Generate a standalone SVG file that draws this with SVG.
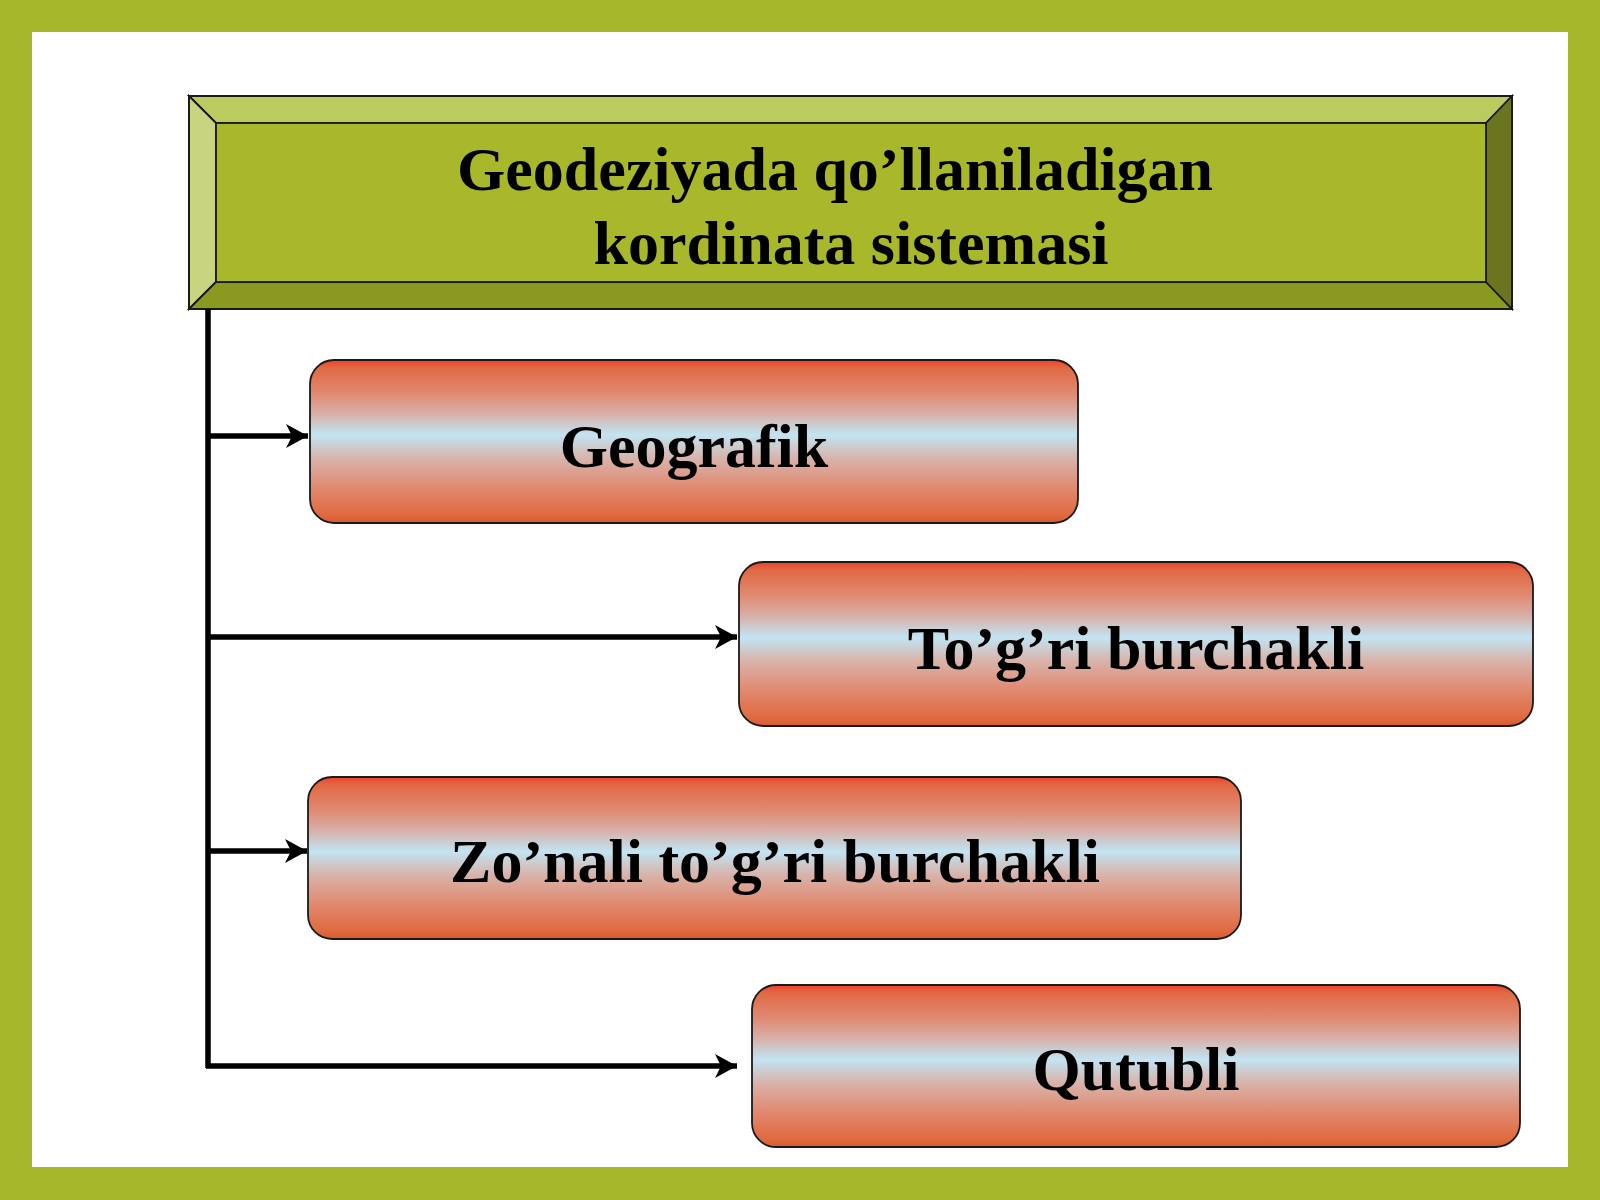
<svg xmlns="http://www.w3.org/2000/svg" width="1600" height="1200" viewBox="0 0 1600 1200">
<defs>
<style>
.t{font-family:"Liberation Serif","Times New Roman",serif;font-weight:bold;font-size:62px;fill:#000;text-anchor:middle}
.box{fill:url(#g);stroke:#1a1a1a;stroke-width:1.8}
.ln{stroke:#000;stroke-width:5.5;fill:none}
.bev{stroke:#1a1a1a;stroke-width:1.8;stroke-linejoin:miter}
</style>
<linearGradient id="g" x1="0" y1="0" x2="0" y2="1">
<stop offset="0" stop-color="#f0402c"/>
<stop offset="0.05" stop-color="#e06a45"/>
<stop offset="0.2" stop-color="#e08870"/>
<stop offset="0.33" stop-color="#d8b0a8"/>
<stop offset="0.46" stop-color="#c2e4f2"/>
<stop offset="0.6" stop-color="#d8b4ac"/>
<stop offset="0.78" stop-color="#e08a70"/>
<stop offset="0.95" stop-color="#e06a40"/>
<stop offset="1" stop-color="#d85a30"/>
</linearGradient>
<marker id="ah" viewBox="0 0 26 26" refX="24" refY="13" markerWidth="26" markerHeight="26" markerUnits="userSpaceOnUse" orient="auto">
<path d="M2,1 L24,13 L2,25 L8,13 Z" fill="#000"/>
</marker>
</defs>
<rect x="0" y="0" width="1600" height="1200" fill="#a5b829"/>
<rect x="32" y="32" width="1536" height="1135" fill="#ffffff"/>

<g id="header">
<rect x="189" y="96" width="1323" height="213" fill="#a8b82a"/>
<polygon class="bev" points="189,96 1512,96 1486,123 216,123" fill="#bccb5e"/>
<polygon class="bev" points="189,96 216,123 216,282 189,309" fill="#c8d480"/>
<polygon class="bev" points="189,309 216,282 1486,282 1512,309" fill="#8a9a20"/>
<polygon class="bev" points="1512,96 1486,123 1486,282 1512,309" fill="#6b7520"/>
<rect x="189" y="96" width="1323" height="213" fill="none" stroke="#1a1a1a" stroke-width="2"/>
<rect x="216" y="123" width="1270" height="159" fill="#a8b82a" stroke="#1a1a1a" stroke-width="1.8"/>
<text class="t" x="835" y="190">Geodeziyada qo’llaniladigan</text>
<text class="t" x="851" y="264">kordinata sistemasi</text>
</g>

<g id="connectors">
<line class="ln" x1="208" y1="309" x2="208" y2="1068"/>
<line class="ln" x1="206" y1="436" x2="308" y2="436" marker-end="url(#ah)"/>
<line class="ln" x1="206" y1="637" x2="737" y2="637" marker-end="url(#ah)"/>
<line class="ln" x1="206" y1="851" x2="307" y2="851" marker-end="url(#ah)"/>
<line class="ln" x1="206" y1="1066" x2="737" y2="1066" marker-end="url(#ah)"/>
</g>

<g id="node1">
<rect class="box" x="310" y="360" width="768" height="163" rx="24"/>
<text class="t" x="694" y="467">Geografik</text>
</g>
<g id="node2">
<rect class="box" x="739" y="562" width="794" height="164" rx="24"/>
<text class="t" x="1136" y="669">To’g’ri burchakli</text>
</g>
<g id="node3">
<rect class="box" x="308" y="777" width="933" height="162" rx="24"/>
<text class="t" x="775" y="882">Zo’nali to’g’ri burchakli</text>
</g>
<g id="node4">
<rect class="box" x="752" y="985" width="768" height="162" rx="24"/>
<text class="t" x="1136" y="1090">Qutubli</text>
</g>
</svg>
